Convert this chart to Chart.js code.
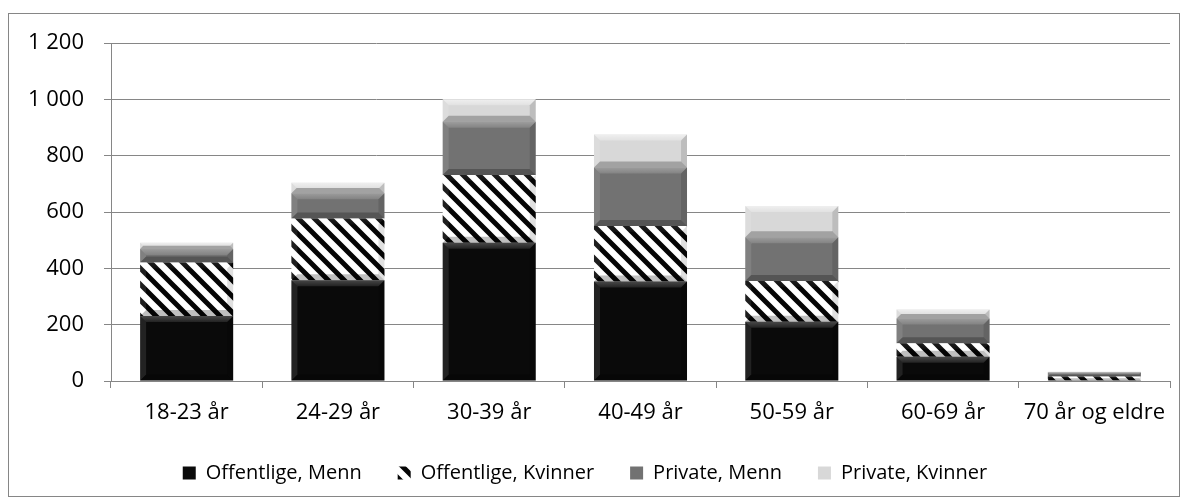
<!DOCTYPE html>
<html>
<head>
<meta charset="utf-8">
<script src="https://cdn.jsdelivr.net/npm/chart.js@4"></script>
<style>
  html, body { margin: 0; padding: 0; background: #fff; }
  #wrap { width: 1187px; height: 504px; position: relative; }
</style>
</head>
<body>
<div id="wrap"><canvas id="chart"></canvas></div>
<script>
// kategorier og verdier (lest av figuren)
const categories = ['18-23 år', '24-29 år', '30-39 år', '40-49 år', '50-59 år', '60-69 år', '70 år og eldre'];
const offentligeMenn = [231, 358, 491, 353, 210, 86, 3];
const offentligeKvinner = [190, 219, 240, 197, 145, 48, 13];
const privateMenn = [48, 90, 189, 208, 155, 88, 14];
const privateKvinner = [22, 37, 80, 117, 111, 32, 3];
const yTicks = [0, 200, 400, 600, 800, 1000, 1200];

const FONT = "'Open Sans', sans-serif";

// skravert mønster for Offentlige, Kvinner
function makeHatch() {
    const s = 16;
    const c = document.createElement('canvas');
    c.width = s; c.height = s;
    const g = c.getContext('2d');
    g.fillStyle = '#fff';
    g.fillRect(0, 0, s, s);
    g.strokeStyle = '#050505';
    g.lineWidth = 5;
    g.beginPath();
    for (let k = -1; k <= 1; k++) {
        g.moveTo(-2, k * s - 2);
        g.lineTo(s + 2, s + k * s + 2);
    }
    g.stroke();
    return g.createPattern(c, 'repeat');
}
const hatch = makeHatch();

// ramme rundt hele figuren
const frame = {
    id: 'frame',
    beforeDraw(chart) {
        const ctx = chart.ctx;
        ctx.save();
        ctx.fillStyle = '#fff';
        ctx.fillRect(0, 0, chart.width, chart.height);
        ctx.strokeStyle = '#868686';
        ctx.lineWidth = 1;
        ctx.strokeRect(8.5, 13.5, 1171, 483);
        ctx.restore();
    }
};

// fasett-effekt på stolpene
const bevel = {
    id: 'bevel',
    afterDatasetsDraw(chart) {
        const ctx = chart.ctx;
        const poly = (pts, fill) => {
            ctx.beginPath();
            ctx.moveTo(pts[0][0], pts[0][1]);
            for (let i = 1; i < pts.length; i++) ctx.lineTo(pts[i][0], pts[i][1]);
            ctx.closePath();
            ctx.fillStyle = fill;
            ctx.fill();
        };
        ctx.save();
        chart.getSortedVisibleDatasetMetas().forEach(meta => {
            const topAlpha = [0.25, 0.1, 0.3, 0.6][meta.index];
            meta.data.forEach(bar => {
                const p = bar.getProps(['x', 'y', 'base', 'width'], true);
                const l = p.x - p.width / 2, r = p.x + p.width / 2;
                const t = Math.min(p.y, p.base), b = Math.max(p.y, p.base);
                const d = Math.min(6, (b - t) / 2, p.width / 2);
                if (d <= 0) return;
                const tg = ctx.createLinearGradient(0, t, 0, t + d);
                tg.addColorStop(0, 'rgba(255,255,255,' + topAlpha + ')');
                tg.addColorStop(1, 'rgba(255,255,255,' + topAlpha * 0.4 + ')');
                poly([[l, t], [r, t], [r - d, t + d], [l + d, t + d]], tg);
                poly([[l, t], [l + d, t + d], [l + d, b - d], [l, b]], 'rgba(255,255,255,0.1)');
                poly([[r, t], [r - d, t + d], [r - d, b - d], [r, b]], 'rgba(0,0,0,0.12)');
                poly([[l, b], [l + d, b - d], [r - d, b - d], [r, b]], 'rgba(0,0,0,0.25)');
            });
        });
        ctx.restore();
    }
};

const fmt = v => String(v).replace(/\B(?=(\d{3})+(?!\d))/g, ' ');

const ds = (label, data, color) => ({
    label: label,
    data: data,
    backgroundColor: color,
    borderWidth: 0,
    categoryPercentage: 1,
    barPercentage: 0.615
});

new Chart(document.getElementById('chart'), {
    type: 'bar',
    data: {
        labels: categories,
        datasets: [
            ds('Offentlige, Menn', offentligeMenn, '#0a0a0a'),
            ds('Offentlige, Kvinner', offentligeKvinner, hatch),
            ds('Private, Menn', privateMenn, '#727272'),
            ds('Private, Kvinner', privateKvinner, '#d8d8d8')
        ]
    },
    options: {
        responsive: true,
        maintainAspectRatio: false,
        animation: false,
        layout: { padding: { left: 0, right: 17, top: 43, bottom: 11 } },
        plugins: {
            legend: {
                position: 'bottom',
                labels: {
                    font: { family: FONT, size: 20 },
                    color: '#000',
                    boxWidth: 13,
                    boxHeight: 13,
                    padding: 36
                }
            },
            tooltip: { enabled: false }
        },
        scales: {
            x: {
                stacked: true,
                grid: { drawOnChartArea: false, color: '#868686', tickLength: 7, offset: true },
                border: { color: '#868686' },
                ticks: { font: { family: FONT, size: 22 }, color: '#000', padding: 12, maxRotation: 0 },
                afterFit: s => { s.height = 46; }
            },
            y: {
                stacked: true,
                min: 0,
                max: 1200,
                afterBuildTicks: s => { s.ticks = yTicks.map(v => ({ value: v })); },
                grid: { color: '#868686', tickLength: 7 },
                border: { color: '#868686' },
                ticks: {
                    font: { family: FONT, size: 22 },
                    color: '#000',
                    padding: 20,
                    callback: v => fmt(v)
                },
                afterFit: s => { s.width = 111; }
            }
        }
    },
    plugins: [frame, bevel]
});
</script>
</body>
</html>
